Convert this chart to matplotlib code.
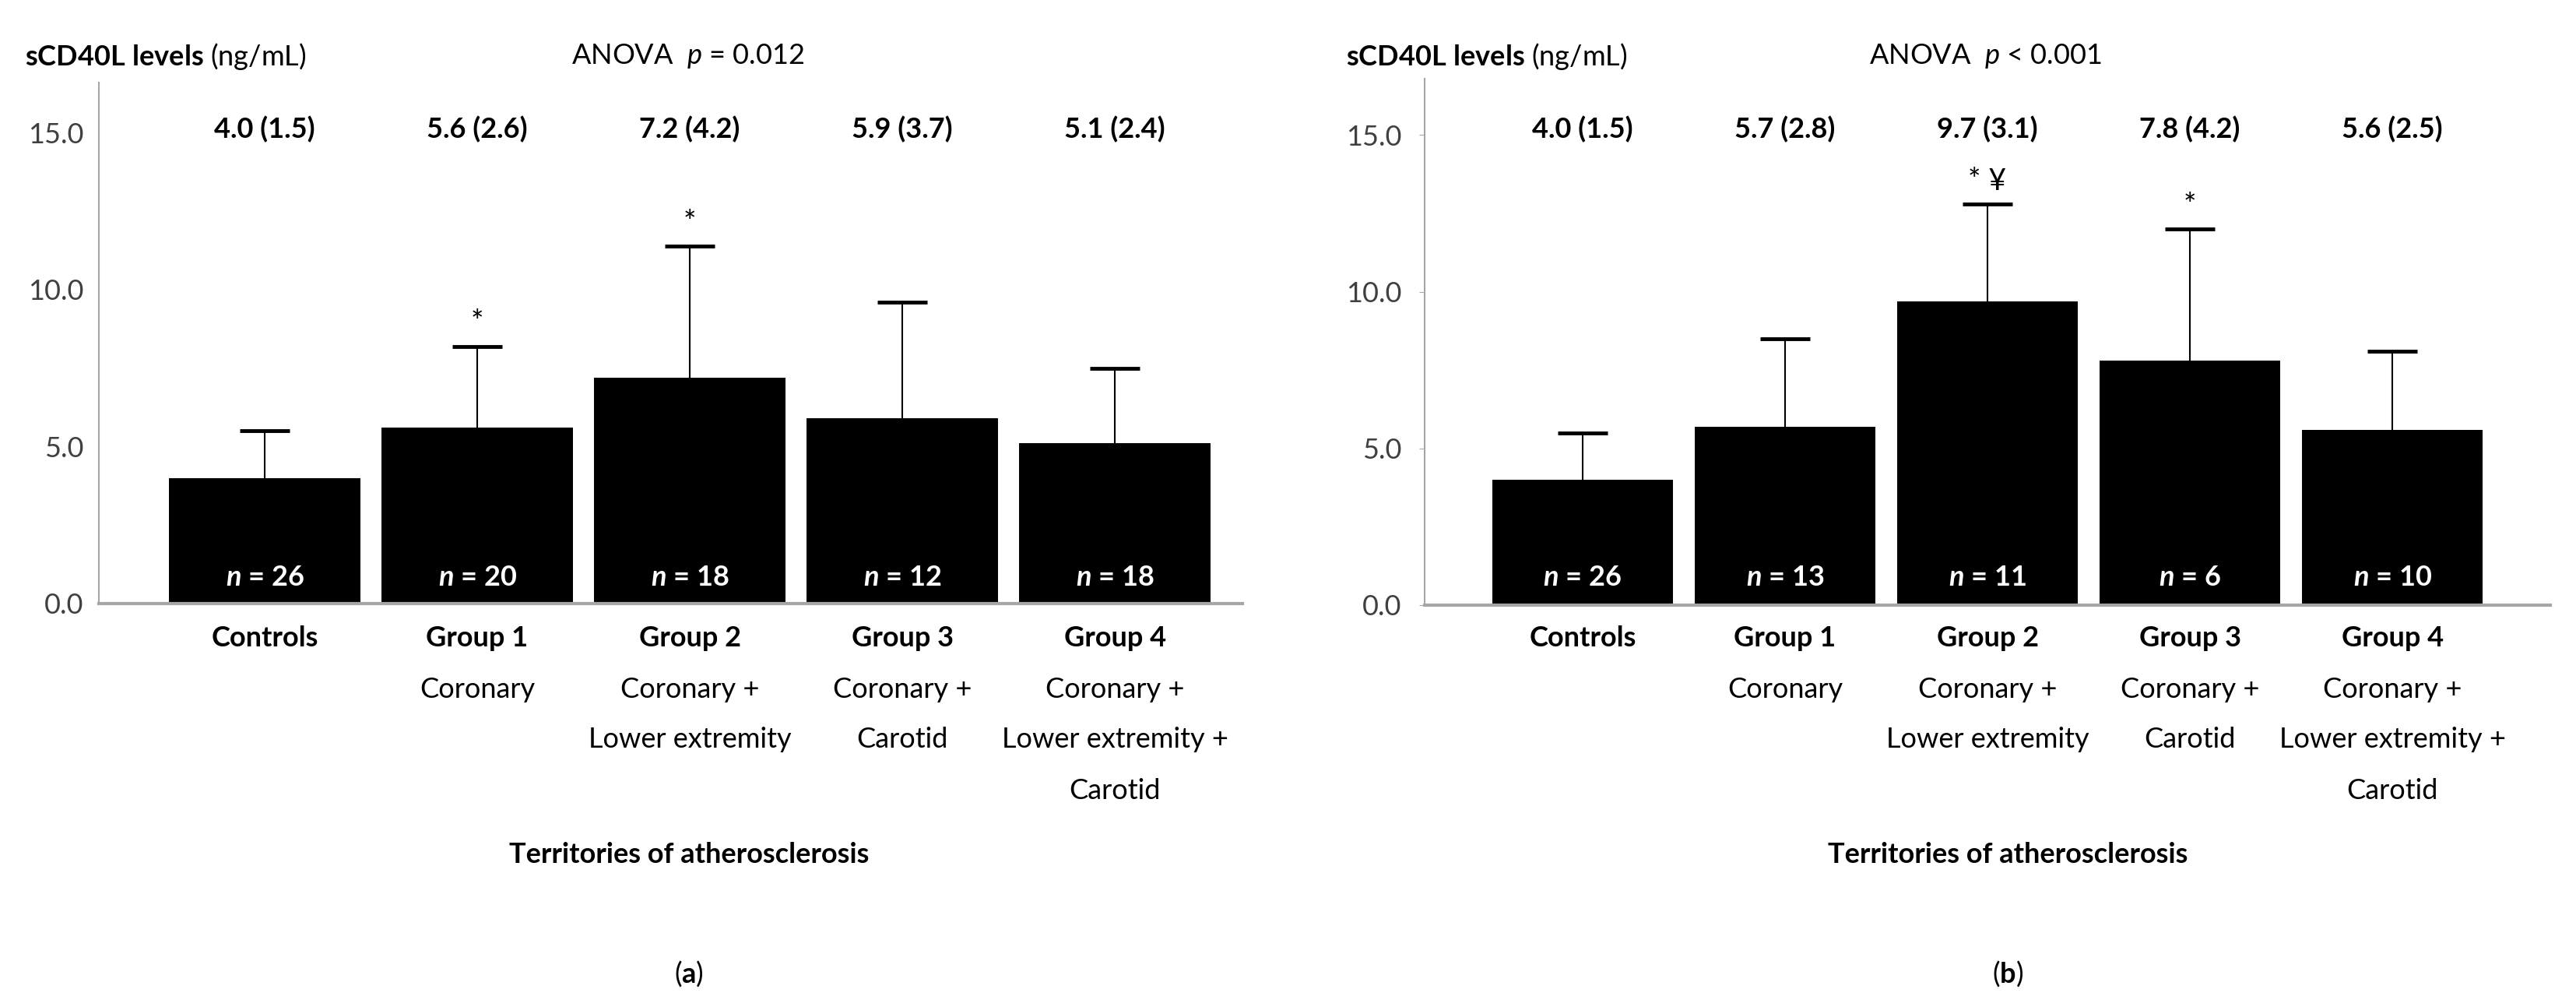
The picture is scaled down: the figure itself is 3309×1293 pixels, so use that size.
import matplotlib
matplotlib.use('Agg')
from matplotlib import pyplot as plt
from matplotlib import transforms
import numpy as np

plt.rcParams['font.family'] = ['Lato', 'DejaVu Sans']
plt.rcParams['mathtext.fontset'] = 'custom'
plt.rcParams['mathtext.rm'] = 'Lato'
plt.rcParams['mathtext.it'] = 'Lato:italic'
plt.rcParams['mathtext.bf'] = 'Lato:bold'
plt.rcParams['mathtext.bfit'] = 'Lato:italic:bold'

# data
groups = ['Controls', 'Group 1', 'Group 2', 'Group 3', 'Group 4']
territories = ['', 'Coronary', 'Coronary +\nLower extremity', 'Coronary +\nCarotid',
               'Coronary +\nLower extremity +\nCarotid']
means_a = [4.0, 5.6, 7.2, 5.9, 5.1]
sd_a = [1.5, 2.6, 4.2, 3.7, 2.4]
n_a = [26, 20, 18, 12, 18]
sig_a = ['', '*', '*', '', '']
anova_a = r'ANOVA  $\mathit{p}$ = 0.012'

means_b = [4.0, 5.7, 9.7, 7.8, 5.6]
sd_b = [1.5, 2.8, 3.1, 4.2, 2.5]
n_b = [26, 13, 11, 6, 10]
sig_b = ['', '', '* \u00a5', '*', '']
anova_b = r'ANOVA  $\mathit{p}$ < 0.001'

W, H = 3309, 1293
FS = 26
fig = plt.figure(figsize=(W/100, H/100), dpi=100)

def fy(y):
    return 1 - y/H

def doplot(rect, means, sds, ns, sigs, anova, ylim_top, xlim, width, ticks_on,
           label_x, anova_x, terr_x, panel):
    ax = fig.add_axes(rect)
    x = np.arange(len(groups))
    ax.bar(x, means, width=width, color='black', zorder=2)
    eb = ax.errorbar(x, means, yerr=[np.zeros(len(sds)), sds], fmt='none', ecolor='black',
                     elinewidth=1.5, capsize=23, capthick=3.5, zorder=3)
    # only the upper caps are drawn
    eb[1][0].set_visible(False)
    ax.set_xlim(*xlim)
    ax.set_ylim(0, ylim_top)
    ax.set_yticks([0, 5, 10, 15])
    ax.set_yticklabels(['%.1f' % v for v in [0, 5, 10, 15]])
    ax.set_xticks([])
    for s in ['top', 'right']:
        ax.spines[s].set_visible(False)
    ax.spines['left'].set_color('#a6a6a6')
    ax.spines['left'].set_linewidth(1.5)
    ax.spines['bottom'].set_color('#a6a6a6')
    ax.spines['bottom'].set_linewidth(3)
    if ticks_on:
        ax.tick_params(axis='y', length=5, color='#a6a6a6', pad=16, labelsize=FS, labelcolor='#404040')
    else:
        ax.tick_params(axis='y', length=0, pad=14, labelsize=FS, labelcolor='#404040')

    tr = transforms.blended_transform_factory(ax.transData, fig.transFigure)
    for i in range(len(groups)):
        ax.text(x[i], fy(166), '%.1f (%.1f)' % (means[i], sds[i]), transform=tr,
                ha='center', va='center', fontsize=FS, fontweight='bold')
        ax.text(x[i], fy(741), r'$\mathbfit{n}$ = %d' % ns[i], transform=tr,
                ha='center', va='center', fontsize=FS, fontweight='bold', color='white')
        if sigs[i]:
            ax.annotate(sigs[i], (x[i], means[i] + sds[i]), xytext=(0, 13),
                        textcoords='offset points', ha='center', va='baseline', fontsize=FS + 2)
        ax.text(x[i], fy(820), groups[i], transform=tr, ha='center', va='center',
                fontsize=FS, fontweight='bold')
        if territories[i]:
            for j, line in enumerate(territories[i].split('\n')):
                ax.text(x[i], fy(885 + 65*j), line, transform=tr, ha='center',
                        va='center', fontsize=FS)

    fig.text(label_x/W, fy(72), r'$\mathbf{sCD40L\ levels}$ (ng/mL)', ha='left',
             va='center', fontsize=FS)
    fig.text(anova_x/W, fy(72), anova, ha='center', va='center', fontsize=FS)
    fig.text(terr_x/W, fy(1098), 'Territories of atherosclerosis', ha='center',
             va='center', fontsize=FS, fontweight='bold')
    fig.text(terr_x/W, fy(1250), r'($\mathbf{%s}$)' % panel, ha='center', va='center',
             fontsize=FS)
    return ax

ax1 = doplot([127/W, fy(775), (1596-127)/W, (775-106)/H], means_a, sd_a, n_a, sig_a,
             anova_a, 16.6, (-0.78, 4.60), 0.9, False, 32, 884, 885, 'a')
ax2 = doplot([1830/W, fy(777), (3276-1830)/W, (777-101)/H], means_b, sd_b, n_b, sig_b,
             anova_b, 16.8, (-0.78, 4.78), 0.89, True, 1729, 2550, 2579, 'b')

fig.savefig('out.png', dpi=100)
